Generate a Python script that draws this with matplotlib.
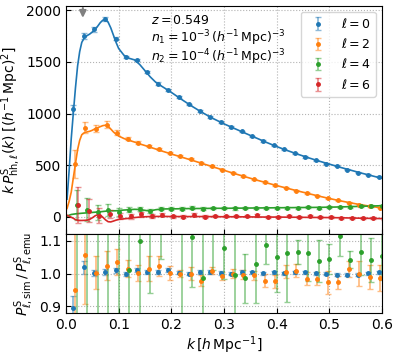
import matplotlib
matplotlib.use("Agg")
import matplotlib.pyplot as plt

# measured bins (same for every multipole, shifted a little when drawn)
k_bins = [0.014, 0.034, 0.054, 0.074, 0.094, 0.114, 0.134, 0.154, 0.174, 0.194,
          0.214, 0.234, 0.254, 0.274, 0.294, 0.314, 0.334, 0.354, 0.374, 0.394,
          0.414, 0.434, 0.454, 0.474, 0.494, 0.514, 0.534, 0.554, 0.574, 0.594]

# simulation k*P_l(k)
p0_sim = [1040, 1750, 1815, 1915, 1727, 1548, 1517, 1403, 1291, 1232,
          1161, 1088, 1025, 967, 916, 867, 826, 780, 735, 693,
          654, 615, 580, 547, 515, 492, 457, 428, 409, 386]
p0_err = [45, 30, 22, 20, 18, 12, 12, 12, 10, 10, 10, 9, 9, 8, 8,
          8, 7, 7, 7, 6, 6, 6, 6, 5, 5, 5, 5, 5, 5, 5]
p2_sim = [510, 864, 855, 893, 816, 758, 719, 686, 654, 618,
          586, 564, 521, 489, 457, 428, 395, 363, 337, 305,
          283, 254, 231, 205, 179, 160, 138, 118, 102, 89]
p2_err = [135, 55, 38, 32, 22, 15, 14, 12, 12, 10, 10, 9, 9, 8, 8,
          8, 7, 7, 7, 7, 6, 6, 6, 6, 6, 6, 6, 6, 6, 6]
p4_sim = [110, 70, 45, 68, 45, 70, 75, 55, 78, 76,
          78, 86, 78, 86, 84, 80, 84, 84, 85, 88,
          86, 88, 90, 88, 93, 95, 97, 100, 103, 107]
p4_err = [145, 115, 72, 58, 35, 25, 22, 18, 16, 15, 15, 14, 13, 13, 12,
          12, 12, 11, 11, 11, 10, 10, 10, 10, 10, 10, 10, 10, 10, 10]
p6_sim = [115, 60, 10, 25, 8, 5, 22, 5, 20, 3,
          2, 18, 0, 5, 8, 6, 5, 13, -2, -2,
          5, -2, 5, -2, -3, -8, -8, -10, -14, -18]
p6_err = [178, 115, 75, 40, 28, 22, 20, 18, 16, 15, 14, 14, 13, 12, 12,
          12, 11, 11, 11, 10, 10, 10, 10, 10, 10, 10, 10, 10, 10, 10]

# emulator curves
k_emu = [0.002, 0.006, 0.010, 0.014, 0.018, 0.022, 0.026, 0.030, 0.035, 0.040,
         0.045, 0.050, 0.055, 0.060, 0.065, 0.070, 0.075, 0.080, 0.085, 0.090,
         0.095, 0.100, 0.110, 0.120, 0.130, 0.140, 0.150, 0.160, 0.170, 0.180,
         0.190, 0.200, 0.220, 0.240, 0.260, 0.280, 0.300, 0.320, 0.340, 0.360,
         0.380, 0.400, 0.420, 0.440, 0.460, 0.480, 0.500, 0.520, 0.540, 0.560,
         0.580, 0.600]
p0_emu = [170, 450, 760, 1010, 1250, 1460, 1600, 1690, 1735, 1755,
          1770, 1790, 1815, 1845, 1880, 1905, 1910, 1885, 1830, 1760,
          1690, 1630, 1565, 1535, 1520, 1475, 1415, 1355, 1305, 1270,
          1238, 1205, 1135, 1068, 1006, 950, 900, 855, 810, 766,
          722, 680, 642, 606, 572, 540, 510, 480, 452, 424,
          398, 372]
p2_emu = [80, 150, 240, 380, 515, 650, 740, 795, 815, 822,
          828, 838, 852, 862, 873, 883, 887, 875, 850, 822,
          800, 782, 758, 740, 724, 706, 690, 673, 657, 640,
          624, 608, 577, 546, 514, 482, 450, 418, 388, 358,
          330, 302, 276, 250, 225, 200, 177, 155, 135, 116,
          100, 85]
p4_emu = [5, 15, 22, 25, 28, 30, 32, 34, 36, 38,
          40, 42, 44, 46, 48, 51, 54, 57, 58, 58,
          58, 60, 65, 68, 72, 70, 62, 55, 68, 74,
          76, 76, 78, 80, 80, 82, 82, 83, 84, 85,
          86, 87, 88, 89, 90, 91, 93, 95, 98, 101,
          104, 107]
p6_emu = [15, 5, -5, -15, -28, -34, -36, -36, -35, -33,
          -25, -10, 8, 20, 18, -5, -30, -48, -50, -42,
          -33, -26, -20, -15, -8, -3, 0, 2, 3, 3,
          3, 2, 2, 2, 2, 1, 0, 0, -1, -2,
          -3, -3, -4, -5, -6, -7, -8, -10, -12, -14,
          -16, -18]

# ratio sim / emu
r0 = [0.896, 1.019, 1.002, 1.004, 1.010, 0.999, 1.010, 1.005, 1.005, 1.010,
      1.003, 1.000, 1.005, 1.005, 1.002, 1.000, 1.005, 1.004, 1.001, 1.004,
      1.001, 1.004, 1.004, 1.001, 0.999, 0.997, 0.997, 0.997, 1.001, 1.004]
r0_err = [0.036, 0.02, 0.01, 0.01, 0.008, 0.006, 0.006, 0.006, 0.006, 0.006,
          0.005, 0.005, 0.005, 0.005, 0.005, 0.005, 0.005, 0.005, 0.005, 0.005,
          0.005, 0.005, 0.005, 0.005, 0.005, 0.005, 0.005, 0.005, 0.005, 0.005]
r2 = [0.951, 1.056, 1.003, 1.024, 1.036, 1.015, 1.002, 1.015, 1.023, 1.002,
      1.000, 0.999, 0.978, 1.009, 0.992, 1.000, 0.997, 0.994, 0.978, 0.976,
      1.006, 1.009, 0.984, 0.984, 0.973, 0.973, 1.014, 0.999, 0.989, 0.987]
r2_err = [0.5, 0.15, 0.05, 0.045, 0.04, 0.026, 0.025, 0.038, 0.03, 0.022,
          0.01, 0.02, 0.017, 0.01, 0.013, 0.015, 0.015, 0.015, 0.02, 0.02,
          0.02, 0.02, 0.02, 0.02, 0.035, 0.02, 0.025, 0.038, 0.036, 0.04]
r4 = [0.70, 1.30, 0.80, 1.25, 0.85, 1.012, 1.10, 1.14, 1.20, 1.35,
      1.20, 1.112, 0.985, 1.13, 1.077, 0.994, 0.985, 1.03, 1.086, 1.052,
      1.063, 1.066, 1.063, 1.038, 1.045, 1.114, 1.042, 1.066, 1.042, 1.055]
r4_err = [0.8, 0.6, 0.5, 0.4, 0.35, 0.25, 0.23, 0.20, 0.155, 0.2,
          0.4, 0.154, 0.3, 0.12, 0.095, 0.25, 0.075, 0.12, 0.056, 0.11,
          0.15, 0.036, 0.085, 0.065, 0.046, 0.06, 0.026, 0.07, 0.067, 0.074]

labels = [r"$\ell=0$", r"$\ell=2$", r"$\ell=4$", r"$\ell=6$"]
colors = ["C0", "C1", "C2", "C3"]
shifts = [0.0, 0.003, 0.006, 0.009]

plt.rcParams["font.size"] = 10
plt.rcParams["xtick.direction"] = "in"
plt.rcParams["ytick.direction"] = "in"


def draw_points(ax, y, err, i, label=None):
    """errorbars with faded bars, solid markers"""
    k = [kk + shifts[i] for kk in k_bins]
    eb = ax.errorbar(k, y, yerr=err, fmt=".", color=colors[i], ms=5,
                     capsize=2.5, elinewidth=1.3, capthick=1.0, label=label)
    for cap in eb[1]:
        cap.set_alpha(0.5)
    for bar in eb[2]:
        bar.set_alpha(0.5)


fig = plt.figure(figsize=(3.99, 3.55), dpi=100)
ax1 = fig.add_axes([0.1654, 0.340, 0.792, 0.644])
ax2 = fig.add_axes([0.1654, 0.119, 0.792, 0.221])

sims = [p0_sim, p2_sim, p4_sim, p6_sim]
errs = [p0_err, p2_err, p4_err, p6_err]
emus = [p0_emu, p2_emu, p4_emu, p6_emu]
for i in range(4):
    ax1.plot(k_emu, emus[i], color=colors[i], lw=1.2)
    draw_points(ax1, sims[i], errs[i], i, labels[i])

ax1.annotate("", xy=(0.032, 1900), xytext=(0.032, 2050),
             arrowprops=dict(arrowstyle="-|>", color="gray", lw=1.5,
                             mutation_scale=10))

ax1.text(0.27, 0.937, r"$z=0.549$", transform=ax1.transAxes, va="center",
         fontsize=9)
ax1.text(0.27, 0.859, r"$n_1=10^{-3}\,(h^{-1}\,{\rm Mpc})^{-3}$",
         transform=ax1.transAxes, va="center", fontsize=9)
ax1.text(0.27, 0.776, r"$n_2=10^{-4}\,(h^{-1}\,{\rm Mpc})^{-3}$",
         transform=ax1.transAxes, va="center", fontsize=9)

ax1.set_xlim(0, 0.6)
ax1.set_ylim(-170, 2045)
ax1.set_yticks([0, 500, 1000, 1500, 2000])
ax1.set_xticks([0.0, 0.1, 0.2, 0.3, 0.4, 0.5, 0.6])
ax1.tick_params(labelbottom=False)
ax1.grid(True, ls=":", color="0.7", lw=0.8)
ax1.set_ylabel(r"$k\,P^{\rm S}_{{\rm hh},\ell}(k)\;[(h^{-1}\,{\rm Mpc})^2]$",
               labelpad=2)
ax1.legend(loc="upper right", fontsize=9)

ratios = [r0, r2, r4]
rerrs = [r0_err, r2_err, r4_err]
for i in range(3):
    draw_points(ax2, ratios[i], rerrs[i], i)

ax2.set_xlim(0, 0.6)
ax2.set_ylim(0.88, 1.12)
ax2.set_yticks([0.9, 1.0, 1.1])
ax2.set_xticks([0.0, 0.1, 0.2, 0.3, 0.4, 0.5, 0.6])
ax2.grid(True, ls=":", color="0.7", lw=0.8)
ax2.set_xlabel(r"$k\,[h\,{\rm Mpc}^{-1}]$", labelpad=2)
ax2.set_ylabel(r"$P^{\rm S}_{\ell,{\rm sim}}\,/\,P^{\rm S}_{\ell,{\rm emu}}$",
               labelpad=2)

fig.savefig("out.png", dpi=100)
